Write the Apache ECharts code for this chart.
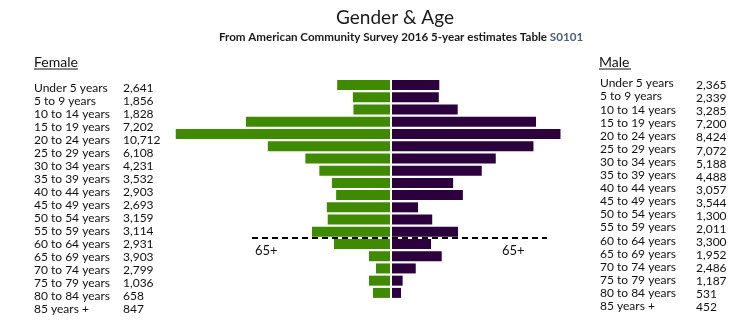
<!DOCTYPE html>
<html>
<head>
<meta charset="utf-8">
<title>Gender &amp; Age</title>
<script src="https://cdn.jsdelivr.net/npm/echarts@6/dist/echarts.min.js"></script>
<style>
  html, body { margin: 0; padding: 0; background: #ffffff; }
  #chart { width: 754px; height: 324px; }
</style>
</head>
<body>
<div id="chart"></div>
<script>
// Age brackets, top to bottom
const ageGroups = [
  'Under 5 years', '5 to 9 years', '10 to 14 years', '15 to 19 years',
  '20 to 24 years', '25 to 29 years', '30 to 34 years', '35 to 39 years',
  '40 to 44 years', '45 to 49 years', '50 to 54 years', '55 to 59 years',
  '60 to 64 years', '65 to 69 years', '70 to 74 years', '75 to 79 years',
  '80 to 84 years', '85 years +'
];

// Side tables (printed counts)
const femaleTable = [
  '2,641', '1,856', '1,828', '7,202', '10,712', '6,108', '4,231', '3,532', '2,903',
  '2,693', '3,159', '3,114', '2,931', '3,903', '2,799', '1,036', '658', '847'
];
const maleTable = [
  '2,365', '2,339', '3,285', '7,200', '8,424', '7,072', '5,188', '4,488', '3,057',
  '3,544', '1,300', '2,011', '3,300', '1,952', '2,486', '1,187', '531', '452'
];

// Bar lengths for the pyramid
const femaleBarValues = [
  2641, 1856, 1828, 7202, 10712, 6108, 4231, 3532, 2903,
  2693, 3159, 3114, 3900, 2800, 1050, 700, 1050, 850
];
const maleBarValues = [
  2365, 2339, 3285, 7200, 8424, 7072, 5188, 4488, 3057,
  3544, 1300, 2011, 3300, 1952, 2486, 1187, 531, 452
];

const FONT = 'Lato, "Open Sans", sans-serif';
const FEMALE_COLOR = '#3f8a00';
const MALE_COLOR = '#2b003d';

const chart = echarts.init(document.getElementById('chart'), null, { renderer: 'canvas' });

chart.setOption({
  animation: false,
  backgroundColor: '#ffffff',
  grid: [
    { left: 170, width: 220, top: 79, height: 220 },
    { left: 392, width: 220, top: 79, height: 220 }
  ],
  xAxis: [
    { gridIndex: 0, type: 'value', inverse: true, min: 0, max: 11000, show: false },
    { gridIndex: 1, type: 'value', min: 0, max: 11000, show: false }
  ],
  yAxis: [
    { gridIndex: 0, type: 'category', data: ageGroups, inverse: true, show: false },
    { gridIndex: 1, type: 'category', data: ageGroups, inverse: true, show: false }
  ],
  series: [
    {
      name: 'Female', type: 'bar', xAxisIndex: 0, yAxisIndex: 0,
      data: femaleBarValues, barWidth: 10, silent: true,
      itemStyle: { color: FEMALE_COLOR }
    },
    {
      name: 'Male', type: 'bar', xAxisIndex: 1, yAxisIndex: 1,
      data: maleBarValues, barWidth: 10, silent: true,
      itemStyle: { color: MALE_COLOR }
    }
  ]
});

// Dashed divider sits halfway between the 60-64 and 65-69 rows
const yA = chart.convertToPixel({ yAxisIndex: 0 }, '60 to 64 years');
const yB = chart.convertToPixel({ yAxisIndex: 0 }, '65 to 69 years');
const dividerY = Math.round((yA + yB) / 2);

const textColor = '#111111';
const graphics = [];

graphics.push({
  type: 'text', x: 395, y: 18,
  style: {
    text: 'Gender & Age', font: '19px ' + FONT, fill: '#1a1a1a',
    textAlign: 'center', textVerticalAlign: 'middle'
  }
});
graphics.push({
  type: 'text', x: 401, y: 37,
  style: {
    text: '{a|From American Community Survey 2016 5-year estimates Table }{b|S0101}',
    textAlign: 'center', textVerticalAlign: 'middle',
    rich: {
      a: { fontFamily: FONT, fontSize: 11.6, fontWeight: 'bold', fill: '#1a1a1a', color: '#1a1a1a' },
      b: { fontFamily: FONT, fontSize: 11.6, fontWeight: 'bold', fill: '#4a5f80', color: '#4a5f80' }
    }
  }
});

// Column headings with underline
function heading(label, x, w) {
  graphics.push({
    type: 'text', x: x, y: 62,
    style: { text: label, font: '14px ' + FONT, fill: textColor, textVerticalAlign: 'middle' }
  });
  graphics.push({
    type: 'line', shape: { x1: x, y1: 69, x2: x + w, y2: 69 },
    style: { stroke: textColor, lineWidth: 1 }
  });
}
heading('Female', 34, 44);
heading('Male', 599, 32);

ageGroups.forEach(function (g, i) {
  graphics.push({
    type: 'text', x: 34, y: 88 + i * 13,
    style: { text: g, font: '12px ' + FONT, fill: textColor, textVerticalAlign: 'middle' }
  });
  graphics.push({
    type: 'text', x: 123, y: 88 + i * 13,
    style: { text: femaleTable[i], font: '12px ' + FONT, fill: textColor, textVerticalAlign: 'middle' }
  });
  graphics.push({
    type: 'text', x: 600, y: 83.5 + i * 13.1,
    style: { text: g, font: '12px ' + FONT, fill: textColor, textVerticalAlign: 'middle' }
  });
  graphics.push({
    type: 'text', x: 696, y: 85.5 + i * 13.03,
    style: { text: maleTable[i], font: '12px ' + FONT, fill: textColor, textVerticalAlign: 'middle' }
  });
});

graphics.push({
  type: 'line', z: 10,
  shape: { x1: 252, y1: dividerY, x2: 547, y2: dividerY },
  style: { stroke: '#000000', lineWidth: 2, lineDash: [6, 4] }
});
graphics.push({
  type: 'text', x: 255, y: dividerY + 13,
  style: { text: '65+', font: '13px ' + FONT, fill: textColor, textVerticalAlign: 'middle' }
});
graphics.push({
  type: 'text', x: 502, y: dividerY + 13,
  style: { text: '65+', font: '13px ' + FONT, fill: textColor, textVerticalAlign: 'middle' }
});

chart.setOption({ graphic: graphics });
</script>
</body>
</html>
